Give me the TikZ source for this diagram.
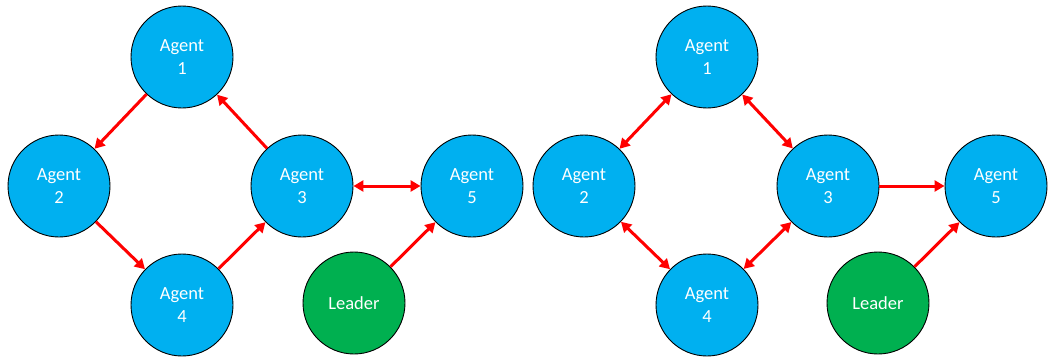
\documentclass[tikz,border=0pt]{standalone}
\usepackage{fontspec}
\setmainfont{Carlito}
\usetikzlibrary{arrows.meta}
\definecolor{agentblue}{HTML}{00B0F0}
\definecolor{leadgreen}{HTML}{00B050}
\definecolor{arrred}{HTML}{FF0000}
\begin{document}
\begin{tikzpicture}[x=1pt,y=-1pt,
  agent/.style={circle,draw=black,line width=0.9pt,fill=agentblue,minimum size=102pt,inner sep=0pt,
     text=white,align=center,font=\fontsize{18.5}{23}\selectfont},
  leader/.style={agent,fill=leadgreen},
  conn/.style={draw=arrred,line width=3pt,-{Triangle[length=10pt,width=11pt]}},
  bconn/.style={draw=arrred,line width=3pt,{Triangle[length=10pt,width=11pt]}-{Triangle[length=10pt,width=11pt]}}]
\useasboundingbox (0,0) rectangle (1049,356);
% left
\node[agent] (a1) at (182,57) {Agent\\1};
\node[agent] (a2) at (59,186) {Agent\\2};
\node[agent] (a3) at (302,186) {Agent\\3};
\node[agent] (a4) at (182,305) {Agent\\4};
\node[agent] (a5) at (472,186) {Agent\\5};
\node[leader] (l) at (354,303) {Leader};
\draw[conn] (a1) -- (a2);
\draw[conn] (a3) -- (a1);
\draw[conn] (a2) -- (a4);
\draw[conn] (a4) -- (a3);
\draw[bconn] (a3) -- (a5);
\draw[conn] (l) -- (a5);
% right
\node[agent] (b1) at (707,57) {Agent\\1};
\node[agent] (b2) at (584,186) {Agent\\2};
\node[agent] (b3) at (828,186) {Agent\\3};
\node[agent] (b4) at (707,305) {Agent\\4};
\node[agent] (b5) at (996,186) {Agent\\5};
\node[leader] (m) at (878,303) {Leader};
\draw[bconn] (b1) -- (b2);
\draw[bconn] (b1) -- (b3);
\draw[bconn] (b2) -- (b4);
\draw[bconn] (b4) -- (b3);
\draw[conn] (b3) -- (b5);
\draw[conn] (m) -- (b5);
\end{tikzpicture}
\end{document}
